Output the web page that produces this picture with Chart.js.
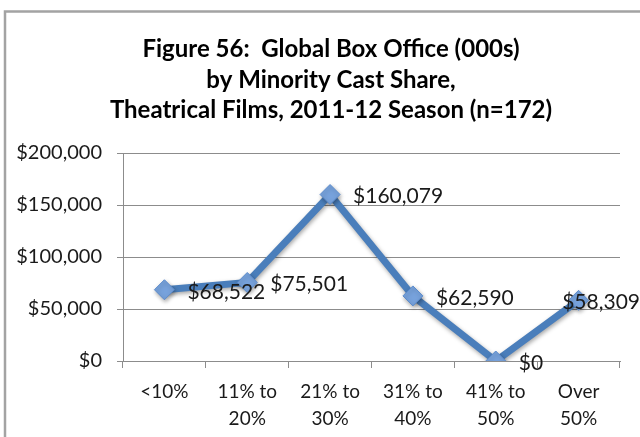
<!DOCTYPE html>
<html>
<head>
<meta charset="utf-8">
<script src="https://cdn.jsdelivr.net/npm/chart.js@4/dist/chart.umd.min.js"></script>
<style>
  html, body { margin: 0; padding: 0; background: #fff; }
  #wrap { position: relative; width: 640px; height: 437px; }
</style>
</head>
<body>
<div id="wrap"><canvas id="chart" width="640" height="437"></canvas></div>
<script>
// Global box office (in thousands) by share of minority cast
const CATEGORIES = [
  ["<10%"],
  ["11% to", "20%"],
  ["21% to", "30%"],
  ["31% to", "40%"],
  ["41% to", "50%"],
  ["Over", "50%"],
];
const BOX_OFFICE = [68522, 75501, 160079, 62590, 0, 58309];

const Y_MIN = 0;
const Y_MAX = 200000;
const Y_STEP = 50000;

const TITLE_LINES = [
  "Figure 56:  Global Box Office (000s)",
  "by Minority Cast Share,",
  "Theatrical Films, 2011-12 Season (n=172)",
];

const FONT = "Lato, 'Open Sans', sans-serif";
const LINE_BLUE = "#4a7ebb";
const GRID_GRAY = "#8c8c8c";

const money = (v) => "$" + v.toLocaleString("en-US");

// thin grey frame around the whole figure
const framePlugin = {
  id: "frame",
  beforeDraw(chart) {
    const ctx = chart.ctx;
    ctx.save();
    ctx.strokeStyle = "#a3a3a3";
    ctx.lineWidth = 2.5;
    ctx.strokeRect(5, 11.5, 700, 500);
    ctx.restore();
  },
};

// three-line bold title, centred over the frame rather than the canvas
const titlePlugin = {
  id: "frameTitle",
  afterDraw(chart) {
    const ctx = chart.ctx;
    ctx.save();
    ctx.font = "bold 24px " + FONT;
    ctx.fillStyle = "#000";
    ctx.textAlign = "center";
    ctx.textBaseline = "alphabetic";
    TITLE_LINES.forEach((line, i) => {
      ctx.fillText(line, 331, 57 + i * 30.5);
    });
    ctx.restore();
  },
};

// soft drop shadow under the line and markers
const shadowPlugin = {
  id: "lineShadow",
  beforeDatasetDraw(chart) {
    const ctx = chart.ctx;
    ctx.save();
    ctx.shadowColor = "rgba(0,0,0,0.35)";
    ctx.shadowBlur = 4;
    ctx.shadowOffsetX = 1;
    ctx.shadowOffsetY = 2;
  },
  afterDatasetDraw(chart) {
    chart.ctx.restore();
  },
};

// value labels to the right of each marker, kept inside the canvas
const valueLabels = {
  id: "valueLabels",
  afterDatasetsDraw(chart) {
    const ctx = chart.ctx;
    const meta = chart.getDatasetMeta(0);
    const data = chart.data.datasets[0].data;
    ctx.save();
    ctx.font = "21px " + FONT;
    ctx.fillStyle = "#1a1a1a";
    ctx.textAlign = "left";
    ctx.textBaseline = "middle";
    meta.data.forEach((pt, i) => {
      const text = money(data[i]);
      const w = ctx.measureText(text).width;
      let x = pt.x + 23;
      if (x + w > chart.width) x = chart.width - w;
      ctx.fillText(text, x, pt.y + 2);
    });
    ctx.restore();
  },
};

new Chart(document.getElementById("chart"), {
  type: "line",
  data: {
    labels: CATEGORIES,
    datasets: [
      {
        data: BOX_OFFICE,
        borderColor: LINE_BLUE,
        borderWidth: 7,
        tension: 0,
        pointStyle: "rectRot",
        pointRadius: 10,
        pointBackgroundColor: "#77a2dc",
        pointBorderColor: "#5b8bcc",
        pointBorderWidth: 1,
      },
    ],
  },
  options: {
    responsive: false,
    animation: false,
    layout: { padding: { top: 153, left: 10, right: 20, bottom: 0 } },
    plugins: {
      legend: { display: false },
      tooltip: { enabled: false },
      title: { display: false },
    },
    scales: {
      x: {
        offset: true,
        grid: {
          offset: true,
          drawOnChartArea: false,
          drawTicks: true,
          tickLength: 7,
          color: GRID_GRAY,
        },
        border: { color: GRID_GRAY },
        ticks: {
          color: "#1a1a1a",
          font: { family: FONT, size: 19, lineHeight: 1.4 },
          maxRotation: 0,
          autoSkip: false,
          padding: 11,
        },
        afterFit(axis) {
          axis.height = 76;
        },
      },
      y: {
        min: Y_MIN,
        max: Y_MAX,
        grid: { color: GRID_GRAY, tickLength: 6 },
        border: { color: GRID_GRAY },
        ticks: {
          stepSize: Y_STEP,
          color: "#1a1a1a",
          font: { family: FONT, size: 20 },
          padding: 15,
          callback: (v) => money(v),
        },
        afterFit(axis) {
          axis.width = 113;
        },
      },
    },
  },
  plugins: [framePlugin, shadowPlugin, valueLabels, titlePlugin],
});
</script>
</body>
</html>
